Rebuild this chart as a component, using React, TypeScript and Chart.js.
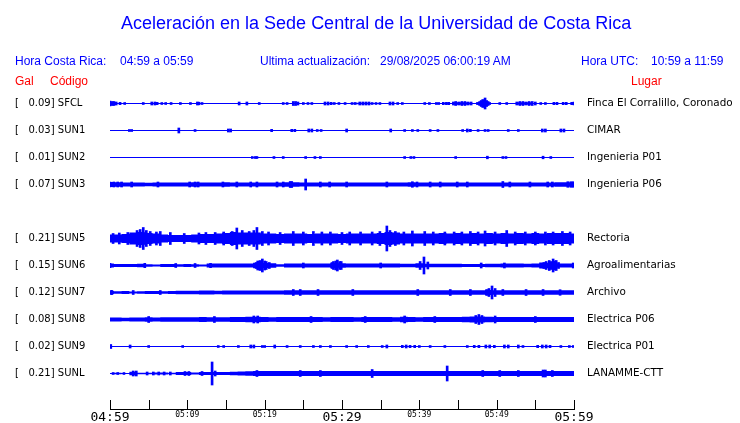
import React, { useEffect, useRef } from 'react';
import { Chart, registerables } from 'chart.js';

Chart.register(...registerables);

// ---------- DATA ----------
const stationCodes = ['SFCL', 'SUN1', 'SUN2', 'SUN3', 'SUN4', 'SUN5', 'SUN6', 'SUN7', 'SUN8', 'SUN9', 'SUNL'];
const peakGal: (number | null)[] = [0.09, 0.03, 0.01, 0.07, null, 0.21, 0.15, 0.12, 0.08, 0.02, 0.21];
const places = ['Finca El Corralillo, Coronado', 'CIMAR', 'Ingenieria P01', 'Ingenieria P06', '', 'Rectoria', 'Agroalimentarias', 'Archivo', 'Electrica P06', 'Electrica P01', 'LANAMME-CTT'];
const timeTicks = ['04:59', '05:09', '05:19', '05:29', '05:39', '05:49', '05:59'];

// half-amplitude of the trace band, one value per minute (0..60 after 04:59)
const envSFCL = [1.5, 0.5, 0.5, 0.5, 0.5, 0.5, 0.5, 0.5, 0.5, 0.5, 0.5, 0.5, 0.5, 0.5, 0.5, 0.5, 0.5, 0.5, 0.5, 0.5, 0.5, 0.5, 0.5, 0.5, 0.5, 0.5, 0.5, 0.5, 0.5, 0.5, 0.5, 0.5, 0.8, 0.8, 0.5, 0.5, 0.5, 0.5, 0.5, 0.5, 0.5, 0.5, 0.5, 0.5, 0.5, 1.2, 1.2, 0.5, 1.5, 0.5, 0.5, 0.5, 0.5, 1.2, 1.2, 0.5, 0.5, 0.5, 0.5, 0.5, 0.5];
const envSUN1 = [0.5, 0.5, 0.5, 0.5, 0.5, 0.5, 0.5, 0.5, 0.5, 0.5, 0.5, 0.5, 0.5, 0.5, 0.5, 0.5, 0.5, 0.5, 0.5, 0.5, 0.5, 0.5, 0.5, 0.5, 0.5, 0.5, 0.5, 0.5, 0.5, 0.5, 0.5, 0.5, 0.5, 0.5, 0.5, 0.5, 0.5, 0.5, 0.5, 0.5, 0.5, 0.5, 0.5, 0.5, 0.5, 0.5, 0.5, 0.5, 0.5, 0.5, 0.5, 0.5, 0.5, 0.5, 0.5, 0.5, 0.5, 0.5, 0.5, 0.5, 0.5];
const envSUN2 = [0.5, 0.5, 0.5, 0.5, 0.5, 0.5, 0.5, 0.5, 0.5, 0.5, 0.5, 0.5, 0.5, 0.5, 0.5, 0.5, 0.5, 0.5, 0.5, 0.5, 0.5, 0.5, 0.5, 0.5, 0.5, 0.5, 0.5, 0.5, 0.5, 0.5, 0.5, 0.5, 0.5, 0.5, 0.5, 0.5, 0.5, 0.5, 0.5, 0.5, 0.5, 0.5, 0.5, 0.5, 0.5, 0.5, 0.5, 0.5, 0.5, 0.5, 0.5, 0.5, 0.5, 0.5, 0.5, 0.5, 0.5, 0.5, 0.5, 0.5, 0.5];
const envSUN3 = [2.5, 2.2, 2, 2, 2, 1.8, 2, 2, 2, 2, 2, 2.2, 2, 2, 2, 2.2, 2, 2, 2, 2, 2, 2, 2, 2.2, 2.2, 2, 2, 2, 2, 2, 2, 2, 2, 2, 2, 2, 2, 2, 2, 2.2, 2, 2, 2, 2, 2, 2, 2, 2, 2, 2, 2, 2, 2, 2, 2, 2, 2, 2, 2.2, 2.2, 2.2];
const envSUN5 = [4, 4, 4.5, 6, 6.5, 5.5, 5, 4, 3.5, 3.5, 3.5, 4, 4.5, 4.5, 5, 5.5, 6.5, 6, 6, 6, 5, 5, 4.5, 5, 5, 5, 4.5, 5, 5, 5, 4.5, 5, 5, 5, 5, 5.5, 6.5, 6, 5, 5, 5, 5, 5, 5.5, 5, 5.5, 5, 5.5, 5, 5.5, 5, 5.5, 5, 5.5, 5, 5.5, 5, 5.5, 5.5, 5.5, 5];
const envSUN6 = [2, 1.5, 1.5, 1.5, 1.8, 1.2, 1, 1.5, 1.5, 1.2, 1.5, 1.2, 1, 2, 2, 2, 2, 2, 2, 2.8, 2.5, 2.2, 1.2, 2, 2, 2, 2, 2, 2, 2.5, 2.2, 2, 2, 2, 2, 2, 2, 2, 1.8, 1.8, 2.2, 1.8, 1.8, 1.8, 1.8, 1.8, 1.5, 1.5, 1.5, 1.8, 1.8, 2, 2, 2, 1.8, 2, 3, 2.8, 2, 2, 2];
const envSUN7 = [1.8, 1.2, 1.5, 1, 1.2, 1.5, 1.5, 1.2, 1.5, 1.8, 1.8, 1.8, 2, 2, 1.8, 2, 2, 2, 2, 2, 2, 2, 2, 2.2, 2.2, 2.2, 2.2, 2.2, 2.2, 2.2, 2.2, 2.2, 2.2, 2.2, 2.2, 2.2, 2.2, 2.2, 2.2, 2.2, 2.2, 2.2, 2.2, 2.2, 2.2, 2.2, 2.2, 2.2, 2.2, 2.5, 2.2, 2.2, 2.2, 2.2, 2.2, 2.2, 2.2, 2.2, 2.2, 2.2, 2.2];
const envSUN8 = [2, 2, 1.8, 2, 2, 2.2, 2, 2.2, 2.2, 2.2, 2.2, 2.2, 2.5, 2.2, 2.2, 2.2, 2.5, 2.5, 2.8, 2.8, 2.5, 2.2, 2.5, 2.5, 2.5, 2.5, 2.5, 2.5, 2.2, 2.5, 2.5, 2.5, 2.2, 2.5, 2.5, 2.5, 2.5, 2.2, 2.8, 2.5, 2.2, 2.5, 2.5, 2.5, 2.5, 2.5, 2.8, 3, 3, 2.8, 2.5, 2.5, 2.5, 2.5, 2.5, 2.5, 2.5, 2.5, 2.5, 2.5, 2.5];
const envSUN9 = [0.5, 0.5, 0.5, 0.5, 0.5, 0.5, 0.5, 0.5, 0.5, 0.5, 0.5, 0.5, 0.5, 0.5, 0.5, 0.5, 0.5, 0.5, 0.5, 0.5, 0.5, 0.5, 0.5, 0.5, 0.5, 0.5, 0.5, 0.5, 0.5, 0.5, 0.5, 0.5, 0.5, 0.5, 0.5, 0.5, 0.5, 0.5, 0.5, 0.5, 0.5, 0.5, 0.5, 0.5, 0.5, 0.5, 0.5, 0.5, 0.5, 0.5, 0.5, 0.5, 0.5, 0.5, 0.5, 0.5, 0.5, 0.5, 0.5, 0.5, 0.5];
const envSUNL = [0.5, 0.8, 0.5, 1.8, 0.8, 0.8, 1, 1, 0.8, 1.5, 1.5, 1, 1.5, 1.5, 1.5, 1.5, 1.8, 2, 2.2, 2.5, 2.5, 2.5, 2.5, 2.5, 2.5, 2.5, 2.5, 2.5, 2.5, 2.5, 2.5, 2.5, 2.5, 2.5, 2.5, 2.5, 2.5, 2.5, 2.5, 2.5, 2.5, 2.5, 2.5, 2.5, 2.5, 2.5, 2.5, 2.5, 2.5, 2.5, 2.5, 2.5, 2.5, 2.5, 2.5, 2.5, 2.5, 2.5, 2.5, 2.5, 2.5];

// bursts / spikes: [minute after 04:59, half-amplitude]
const spikesSFCL: [number, number][] = [[0.0, 2.3], [0.3, 2], [0.5, 2], [0.8, 1.5], [1.3, 1.2], [1.9, 1], [4.3, 1], [5.4, 1.5], [5.8, 1.5], [6.1, 1.2], [6.7, 1], [7.2, 1], [7.9, 1], [9.1, 1], [10.4, 1], [11.3, 1.5], [11.5, 1.3], [11.9, 1], [16.7, 1.5], [17.7, 1.5], [19.3, 1], [22.4, 1], [22.9, 1], [23.7, 2], [24.0, 2], [24.3, 1.5], [25.0, 1], [25.6, 1], [26.1, 1], [27.8, 1.5], [28.2, 1.5], [28.6, 1.2], [29.0, 1], [29.6, 1], [30.4, 1], [31.3, 1], [31.7, 1], [32.3, 1.5], [32.7, 1.5], [33.1, 1.5], [33.5, 1.5], [33.9, 1], [34.4, 1], [34.9, 1], [36.2, 1.5], [36.6, 1.5], [37.2, 1], [37.8, 1], [40.7, 1], [41.3, 1], [42.2, 1], [42.5, 1], [43.1, 1.2], [43.5, 1.2], [43.8, 1.2], [44.4, 1.5], [44.7, 2], [45.1, 1.5], [45.5, 2], [45.9, 2], [46.3, 1.5], [46.7, 1.5], [47.5, 1], [47.8, 2], [48.0, 3], [48.2, 4], [48.5, 5.5], [48.7, 3], [48.9, 2], [49.1, 1], [50.4, 1], [51.3, 1], [52.6, 1.5], [53.0, 2], [53.4, 2], [53.8, 1.5], [54.2, 2], [54.6, 2], [55.0, 1.5], [55.7, 1], [56.3, 1], [57.4, 1.2], [57.8, 1.2], [58.6, 1.2], [59.0, 1.2], [59.7, 1.2], [60.0, 1.5]];
const spikesSUN1: [number, number][] = [[2.5, 1], [2.8, 1], [8.9, 2.5], [11.0, 1], [15.3, 1.5], [15.6, 1.5], [20.9, 1.2], [23.5, 1.2], [23.9, 1.2], [25.7, 1.5], [26.1, 1.5], [26.8, 1], [27.3, 1], [30.6, 1.5], [36.3, 1.5], [38.1, 1], [39.1, 1], [39.8, 1], [41.4, 1], [42.4, 1], [45.6, 1], [46.2, 1.5], [46.6, 1.2], [47.6, 1], [48.5, 1], [48.9, 1], [51.5, 1], [52.8, 1], [55.9, 1.5], [56.3, 1.5], [58.3, 1.5], [58.7, 1.5]];
const spikesSUN2: [number, number][] = [[18.4, 1], [18.8, 1], [19.0, 1], [21.2, 1], [22.4, 1], [25.3, 1], [26.5, 1], [27.2, 1], [38.1, 1], [38.9, 1], [39.3, 1], [44.7, 1], [48.8, 1.3], [50.8, 1], [51.2, 1], [56.0, 1.3], [57.0, 1]];
const spikesSUN3: [number, number][] = [[0.0, 2.5], [0.5, 2.5], [1.0, 2.5], [1.5, 2.5], [2.8, 2.5], [6.2, 2.5], [10.3, 2.5], [11.0, 2.5], [11.4, 2.5], [14.6, 2.5], [16.4, 2.5], [18.2, 2.5], [19.0, 2.5], [21.6, 2.5], [22.4, 2.5], [23.3, 3], [23.5, 3], [25.3, 5.5], [27.2, 2.5], [28.4, 2.5], [30.6, 2.5], [35.8, 2.5], [39.1, 2.8], [39.7, 2.5], [41.4, 2.5], [42.7, 2.5], [44.9, 2.5], [46.2, 2.5], [50.8, 3], [51.7, 2.5], [54.3, 2.5], [56.6, 2.5], [57.2, 2.5], [59.2, 2.8], [59.6, 2.8], [59.9, 2.8]];
const spikesSUN5: [number, number][] = [[0.4, 5], [1.2, 5.5], [2.3, 6], [3.5, 8], [3.9, 9], [4.3, 11], [4.7, 8], [5.2, 7], [6.0, 6.5], [6.5, 7], [7.8, 6], [9.6, 5], [11.5, 5.5], [12.4, 6], [13.6, 6], [14.7, 6.5], [15.8, 7], [16.4, 10.5], [17.1, 8], [18.0, 7], [18.6, 8], [19.0, 11], [19.7, 7], [20.5, 6.5], [22.0, 6], [23.7, 7], [25.0, 6.5], [26.3, 7], [27.4, 6.5], [28.5, 6.5], [30.0, 6], [31.0, 6.5], [32.4, 6.5], [33.9, 6.5], [34.9, 7], [35.8, 12.5], [36.2, 8], [36.9, 7], [38.0, 6.5], [39.1, 7.5], [40.7, 7], [41.8, 6.5], [43.3, 6.5], [44.5, 6.5], [45.5, 6.5], [46.6, 7], [47.6, 6.5], [48.5, 7.5], [49.8, 6.5], [51.3, 8], [52.4, 6.5], [53.7, 6.5], [55.0, 6.5], [56.3, 6.5], [57.3, 6.5], [58.5, 7], [59.5, 6.5]];
const spikesSUN6: [number, number][] = [[0.0, 2.2], [4.5, 2.2], [8.5, 2], [11.0, 2], [13.0, 2.2], [18.9, 3], [19.1, 4.5], [19.4, 5], [19.7, 6.5], [20.0, 4.5], [20.2, 4], [20.6, 3], [25.0, 2.5], [28.7, 3], [28.9, 4], [29.2, 4.5], [29.4, 5.5], [29.7, 4], [29.9, 4], [35.0, 2.5], [40.1, 4], [40.6, 8.5], [41.1, 3.5], [48.0, 2.5], [51.0, 2.5], [56.1, 3], [56.4, 4], [56.8, 5], [57.0, 4], [57.3, 6.5], [57.5, 4.5], [57.7, 5], [58.0, 3], [59.9, 2.5]];
const spikesSUN7: [number, number][] = [[0.2, 2.2], [3.0, 2], [6.5, 2], [23.7, 3], [24.6, 3], [26.9, 3], [31.4, 3], [39.8, 3], [44.0, 3], [46.6, 3], [48.7, 3], [49.0, 4], [49.4, 6.5], [49.8, 4], [50.8, 3], [53.8, 3], [56.0, 3], [58.2, 2.8]];
const spikesSUN8: [number, number][] = [[5.0, 3], [13.5, 3], [18.6, 3.5], [19.1, 3.5], [26.0, 3], [33.0, 3], [38.1, 3.5], [42.0, 3], [47.3, 4], [47.7, 5], [48.1, 4], [49.8, 3.5], [55.0, 3]];
const spikesSUN9: [number, number][] = [[0.1, 2], [2.6, 1.5], [5.0, 1], [9.4, 1], [14.0, 1], [14.7, 1], [16.6, 1], [18.2, 1.5], [18.6, 1.5], [19.7, 1], [20.0, 1], [21.3, 1.5], [22.9, 1], [24.6, 1], [26.3, 1], [27.2, 1], [28.5, 1], [30.6, 1], [31.9, 1], [33.4, 1], [35.2, 1], [35.8, 1.5], [37.8, 1.2], [38.3, 1.5], [38.8, 1.2], [39.4, 1.2], [40.0, 1], [41.4, 1], [43.3, 1], [46.2, 1], [47.1, 1.2], [47.7, 1.2], [48.6, 1.5], [49.1, 1.5], [49.7, 1.2], [51.0, 1.5], [51.5, 1.5], [52.8, 1.5], [53.4, 1], [55.3, 1.2], [55.9, 1.5], [56.4, 1.5], [56.9, 1.2], [58.3, 1], [59.4, 1], [59.9, 1]];
const spikesSUNL: [number, number][] = [[0.4, 1], [1.0, 1], [1.8, 1], [3.0, 2.5], [3.4, 2.5], [4.8, 1.5], [5.6, 1.5], [6.3, 1.5], [7.0, 1.5], [7.8, 1.5], [9.7, 2], [10.2, 2], [11.9, 2], [13.2, 11.5], [13.6, 2.5], [19.0, 3], [24.6, 3], [27.2, 3], [33.9, 4], [43.6, 7.5], [48.2, 3], [50.4, 3], [52.8, 3], [56.0, 3.5], [56.3, 3.5], [57.2, 3]];

const envelopes = [envSFCL, envSUN1, envSUN2, envSUN3, null, envSUN5, envSUN6, envSUN7, envSUN8, envSUN9, envSUNL];
const spikes = [spikesSFCL, spikesSUN1, spikesSUN2, spikesSUN3, null, spikesSUN5, spikesSUN6, spikesSUN7, spikesSUN8, spikesSUN9, spikesSUNL];

// ---------- STYLE ----------
const BLUE = '#0000ff';
const RED = '#ff0000';
const ROW_GAP = 27;
const Y_TOP = -13.5;
const Y_BOTTOM = 305.5;

const stationRows = stationCodes.map((_, i) => i).filter((i) => envelopes[i] !== null);

function buildDatasets() {
  const ds: any[] = [];
  stationRows.forEach((i) => {
    const env = envelopes[i] as number[];
    const sp = spikes[i] as [number, number][];
    const c = i * ROW_GAP;
    ds.push({
      type: 'line',
      label: stationCodes[i] + ' max',
      data: env.map((a, k) => ({ x: k, y: c - a })),
      borderColor: 'rgba(0,0,0,0)',
      borderWidth: 1,
      pointRadius: 0,
      stepped: 'middle',
      fill: false,
    });
    ds.push({
      type: 'line',
      label: stationCodes[i] + ' min',
      data: env.map((a, k) => ({ x: k, y: c + a })),
      borderColor: 'rgba(0,0,0,0)',
      borderWidth: 1,
      backgroundColor: BLUE,
      pointRadius: 0,
      stepped: 'middle',
      fill: '-1',
    });
    ds.push({
      type: 'bar',
      label: stationCodes[i] + ' bursts',
      data: sp.map(([m, a]) => ({ x: m, y: [c - a, c + a] })),
      backgroundColor: BLUE,
      borderWidth: 0,
      barThickness: 2,
      grouped: false,
    });
  });
  return ds;
}

const leftLabel = (i: number) => `[${(peakGal[i] as number).toFixed(2).padStart(7, ' ')}] ${stationCodes[i]}`;

const innerTicks = {
  id: 'innerTicks',
  afterDraw(chart: any) {
    const s = chart.scales.x;
    const ctx = chart.ctx;
    ctx.save();
    ctx.strokeStyle = '#000';
    ctx.lineWidth = 1;
    ctx.beginPath();
    s.ticks.forEach((t: any) => {
      const px = Math.round(s.getPixelForValue(t.value)) + 0.5;
      ctx.moveTo(px, s.top - 9);
      ctx.lineTo(px, s.top + 1);
    });
    ctx.stroke();
    ctx.restore();
  },
};

const txt = (left: number, top: number, size: number, color: string): React.CSSProperties => ({
  position: 'absolute',
  left,
  top,
  fontFamily: '"Liberation Sans", Arial, sans-serif',
  fontSize: size,
  lineHeight: `${size}px`,
  color,
  whiteSpace: 'pre',
  margin: 0,
});

export default function App() {
  const canvasRef = useRef<HTMLCanvasElement | null>(null);

  useEffect(() => {
    if (!canvasRef.current) return;
    const rowTicks = () => stationRows.map((i) => ({ value: i * ROW_GAP }));
    const chart = new Chart(canvasRef.current, {
      type: 'line',
      data: { datasets: buildDatasets() },
      options: {
        animation: false,
        responsive: false,
        devicePixelRatio: 1,
        layout: { padding: { top: 90, left: 15, right: 0, bottom: 0 } },
        plugins: { legend: { display: false }, tooltip: { enabled: false }, title: { display: false } },
        scales: {
          x: {
            type: 'linear',
            min: 0,
            max: 60,
            offset: false,
            grid: { display: false, drawTicks: false },
            border: { display: true, color: '#000', width: 1 },
            ticks: {
              stepSize: 5,
              autoSkip: false,
              maxRotation: 0,
              padding: 1,
              color: '#000',
              font: (ctx: any) => ({
                family: '"DejaVu Sans Mono", monospace',
                size: ctx.tick && ctx.tick.value % 30 === 0 ? 13 : 8,
              }),
              callback: (v: any) => (Number(v) % 10 === 0 ? timeTicks[Number(v) / 10] : ''),
            },
            afterFit: (s: any) => {
              s.height = 14;
            },
          },
          y: {
            type: 'linear',
            position: 'left',
            reverse: true,
            min: Y_TOP,
            max: Y_BOTTOM,
            grid: { display: false, drawTicks: false },
            border: { display: false },
            afterBuildTicks: (s: any) => {
              s.ticks = rowTicks();
            },
            ticks: {
              crossAlign: 'far',
              padding: 0,
              color: '#000',
              font: { family: '"DejaVu Sans", sans-serif', size: 10 },
              callback: (v: any) => leftLabel(Math.round(Number(v) / ROW_GAP)),
            },
            afterFit: (s: any) => {
              s.width = 95;
              s.paddingTop = 0;
              s.paddingBottom = 0;
            },
          },
          y2: {
            type: 'linear',
            position: 'right',
            reverse: true,
            min: Y_TOP,
            max: Y_BOTTOM,
            grid: { display: false, drawTicks: false },
            border: { display: false },
            afterBuildTicks: (s: any) => {
              s.ticks = rowTicks();
            },
            ticks: {
              padding: 13,
              color: '#000',
              font: { family: '"DejaVu Sans", sans-serif', size: 10.4 },
              callback: (v: any) => places[Math.round(Number(v) / ROW_GAP)],
            },
            afterFit: (s: any) => {
              s.width = 166;
              s.paddingTop = 0;
              s.paddingBottom = 0;
            },
          },
        },
      } as any,
      plugins: [innerTicks],
    });
    return () => chart.destroy();
  }, []);

  return (
    <div style={{ position: 'fixed', left: 0, top: 0, width: 740, height: 423, background: '#fff', overflow: 'hidden' }}>
      <canvas ref={canvasRef} width={740} height={423} style={{ position: 'absolute', left: 0, top: 0, width: 740, height: 423 }} />
      <div style={txt(121, 14, 18, BLUE)}>Aceleración en la Sede Central de la Universidad de Costa Rica</div>
      <div style={txt(15, 55, 12, BLUE)}>Hora Costa Rica:</div>
      <div style={txt(120, 55, 12, BLUE)}>04:59 a 05:59</div>
      <div style={txt(260, 55, 12, BLUE)}>Ultima actualización:</div>
      <div style={txt(380, 55, 12, BLUE)}>29/08/2025 06:00:19 AM</div>
      <div style={txt(581, 55, 12, BLUE)}>Hora UTC:</div>
      <div style={txt(651, 55, 12, BLUE)}>10:59 a 11:59</div>
      <div style={txt(15, 75, 12, RED)}>Gal</div>
      <div style={txt(50, 75, 12, RED)}>Código</div>
      <div style={txt(631, 75, 12, RED)}>Lugar</div>
    </div>
  );
}
